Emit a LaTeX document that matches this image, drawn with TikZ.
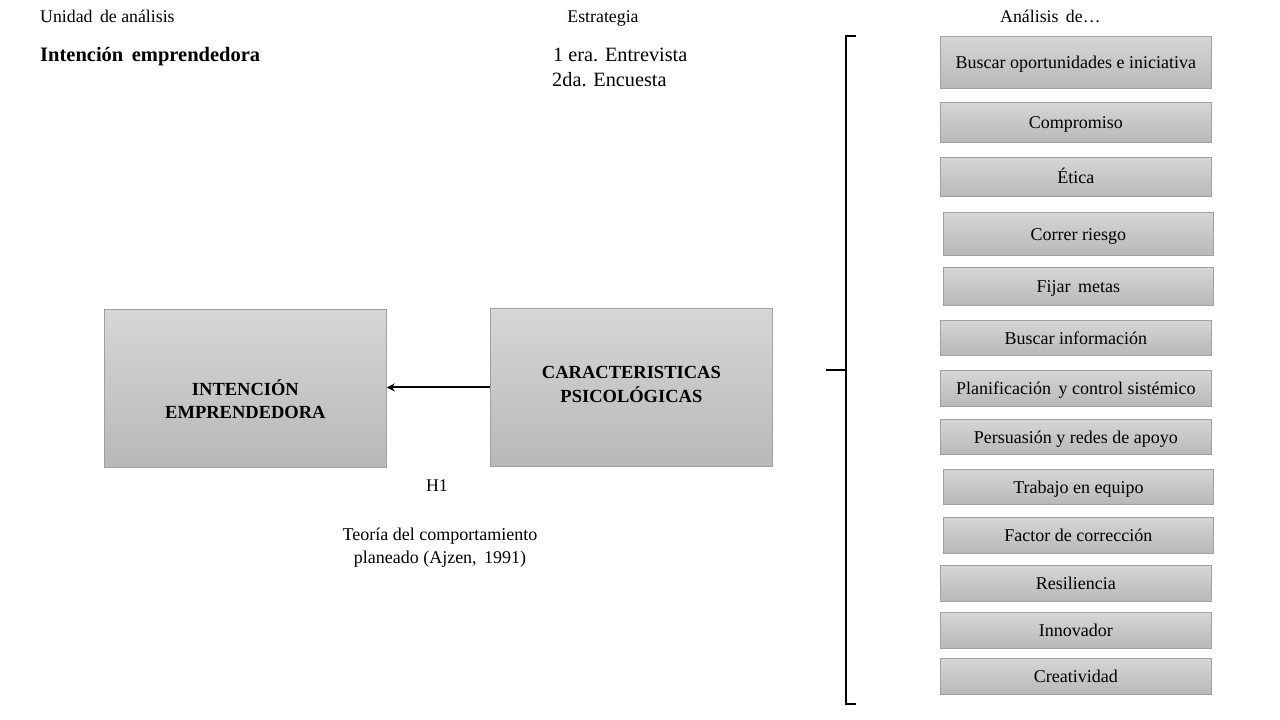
\documentclass[tikz,border=0pt]{standalone}
\usepackage{fontspec}
\setmainfont{Liberation Serif}
\usetikzlibrary{arrows.meta}
\definecolor{boxtop}{RGB}{214,214,214}
\definecolor{boxbot}{RGB}{184,184,184}
\definecolor{boxline}{RGB}{160,160,160}
\tikzset{
  gbox/.style={draw=boxline, line width=0.8pt, top color=boxtop, bottom color=boxbot,
    inner sep=0pt, anchor=north west, align=center, text height=12.5pt, text depth=0pt,
    font=\fontsize{18}{21}\selectfont},
  bigbox/.style={draw=boxline, line width=0.8pt, top color=boxtop, bottom color=boxbot,
    inner sep=0pt, anchor=north west, minimum width=282pt, minimum height=158pt},
  bigtext/.style={inner sep=0pt, align=center, font=\bfseries\fontsize{18.5}{23.5}\selectfont},
  plain/.style={inner sep=0pt, anchor=base west, font=\fontsize{17.8}{21}\selectfont},
  bracket/.style={line width=2pt, black},
  conn/.style={line width=2pt, -{Stealth[length=8pt,width=8pt]}}
}
\begin{document}
\begin{tikzpicture}[x=1pt,y=-1pt]
\useasboundingbox (0,0) rectangle (1280,720);

% headers
\node[plain] (unidad) at (40,23) {Unidad\, de análisis};
\node[plain, font=\bfseries\fontsize{20.5}{24}\selectfont] (intenc) at (40,61) {Intención\, emprendedora};
\node[plain, anchor=base] (estr) at (603,23) {Estrategia};
\node[plain, font=\fontsize{20.3}{24}\selectfont] (ent) at (553,61) {1 era. Entrevista};
\node[plain, font=\fontsize{20.3}{24}\selectfont] (enc) at (552,86) {2da. Encuesta};
\node[plain] (anal) at (1000,23) {Análisis\, de…};

% main boxes
\node[bigbox] (ie) at (104,309) {};
\node[bigtext] (iet) at ([yshift=-11pt]ie.center) {INTENCIÓN\\EMPRENDEDORA};
\node[bigbox] (cp) at (490,308) {};
\node[bigtext] (cpt) at ([yshift=3pt]cp.center) {CARACTERISTICAS\\PSICOLÓGICAS};
\draw[conn] (cp.west) -- (cp.west -| ie.east);

\node[plain, anchor=base] (h1) at (437,491) {H1};
\node[inner sep=0pt, align=center, anchor=north, font=\fontsize{18}{23}\selectfont] (teo) at (440,528)
  {Teoría del comportamiento\\planeado (Ajzen,\, 1991)};

% bracket
\coordinate (bt) at (856,36);
\coordinate (bb) at (856,704);
\coordinate (bm) at (826,370);
\draw[bracket] (bt) -- (846,36) -- (846,704) -- (bb);
\draw[bracket] (846,370) -- (bm);

% right boxes
\node[gbox, minimum width=271pt, minimum height=52pt] (r1) at (940,36) {Buscar oportunidades e iniciativa};
\node[gbox, minimum width=271pt, minimum height=40pt] (r2) at (940,102) {Compromiso};
\node[gbox, minimum width=271pt, minimum height=39pt] (r3) at (940,157) {Ética};
\node[gbox, minimum width=270pt, minimum height=43pt] (r4) at (943,212) {Correr riesgo};
\node[gbox, minimum width=270pt, minimum height=38pt] (r5) at (943,267) {Fijar\, metas};
\node[gbox, minimum width=271pt, minimum height=35pt] (r6) at (940,320) {Buscar información};
\node[gbox, minimum width=271pt, minimum height=36pt] (r7) at (940,370) {Planificación\, y control sistémico};
\node[gbox, minimum width=271pt, minimum height=35pt] (r8) at (940,419) {Persuasión y redes de apoyo};
\node[gbox, minimum width=270pt, minimum height=35pt] (r9) at (943,469) {Trabajo en equipo};
\node[gbox, minimum width=270pt, minimum height=36pt] (r10) at (943,517) {Factor de corrección};
\node[gbox, minimum width=271pt, minimum height=36pt] (r11) at (940,565) {Resiliencia};
\node[gbox, minimum width=271pt, minimum height=36pt] (r12) at (940,612) {Innovador};
\node[gbox, minimum width=271pt, minimum height=36pt] (r13) at (940,658) {Creatividad};
\end{tikzpicture}
\end{document}
